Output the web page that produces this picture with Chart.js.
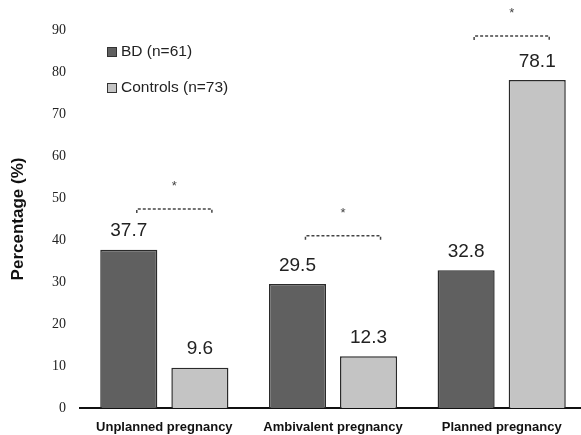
<!DOCTYPE html>
<html>
<head>
<meta charset="utf-8">
<script src="https://cdn.jsdelivr.net/npm/chart.js@4"></script>
<style>
  html, body { margin: 0; padding: 0; background: #fff; overflow: hidden; }
  #wrap { width: 587px; height: 435px; }
</style>
</head>
<body>
<div id="wrap"><canvas id="barChart"></canvas></div>
<script>
var categories = ["Unplanned pregnancy", "Ambivalent pregnancy", "Planned pregnancy"];
var bdValues = [37.7, 29.5, 32.8];
var controlValues = [9.6, 12.3, 78.1];
var seriesNames = ["BD (n=61)", "Controls (n=73)"];
var bracketLevels = [47.4, 41, 88.6];
var bracketMarks = ["*", "*", "*"];

// value labels above each bar
var valueLabels = {
    id: 'valueLabels',
    afterDatasetsDraw: function(chart) {
        var ctx = chart.ctx;
        ctx.save();
        ctx.font = '19px "Liberation Sans", Arial, sans-serif';
        ctx.fillStyle = '#222';
        ctx.textAlign = 'center';
        ctx.textBaseline = 'bottom';
        chart.data.datasets.forEach(function(ds, i) {
            chart.getDatasetMeta(i).data.forEach(function(bar, j) {
                ctx.fillText(ds.data[j].toFixed(1), bar.x, bar.y - 9);
            });
        });
        ctx.restore();
    }
};

// dashed significance brackets with asterisks
var brackets = {
    id: 'brackets',
    afterDatasetsDraw: function(chart) {
        var ctx = chart.ctx;
        var y = chart.scales.y;
        var m0 = chart.getDatasetMeta(0).data;
        var m1 = chart.getDatasetMeta(1).data;
        ctx.save();
        for (var k = 0; k < bracketLevels.length; k++) {
            var x1 = m0[k].x + 8;
            var x2 = m1[k].x + 12;
            var by = y.getPixelForValue(bracketLevels[k]);
            ctx.strokeStyle = '#444';
            ctx.lineWidth = 1.5;
            ctx.setLineDash([3, 2]);
            ctx.beginPath();
            ctx.moveTo(x1, by + 4);
            ctx.lineTo(x1, by);
            ctx.lineTo(x2, by);
            ctx.lineTo(x2, by + 4);
            ctx.stroke();
            ctx.setLineDash([]);
            ctx.fillStyle = '#444';
            ctx.font = '13px "Liberation Sans", Arial, sans-serif';
            ctx.textAlign = 'center';
            ctx.textBaseline = 'middle';
            ctx.fillText(bracketMarks[k], (x1 + x2) / 2, by - 22);
        }
        ctx.restore();
    }
};

// legend drawn inside plot area, top-left
var innerLegend = {
    id: 'innerLegend',
    afterDraw: function(chart) {
        var ctx = chart.ctx;
        var left = chart.chartArea.left + 27;
        var top = chart.chartArea.top + 22;
        ctx.save();
        ctx.font = '15.5px "Liberation Sans", Arial, sans-serif';
        ctx.textBaseline = 'middle';
        chart.data.datasets.forEach(function(ds, i) {
            var cy = top + i * 36;
            ctx.fillStyle = ds.backgroundColor;
            ctx.fillRect(left, cy - 5, 10, 10);
            ctx.strokeStyle = '#333';
            ctx.lineWidth = 1;
            ctx.strokeRect(left + 0.5, cy - 4.5, 9, 9);
            ctx.fillStyle = '#222';
            ctx.fillText(ds.label, left + 14, cy);
        });
        ctx.restore();
    }
};

var ctx = document.getElementById('barChart').getContext('2d');

new Chart(ctx, {
    type: 'bar',
    data: {
        labels: categories,
        datasets: [
            {
                label: seriesNames[0],
                data: bdValues,
                backgroundColor: '#606060',
                borderColor: '#2a2a2a',
                borderWidth: 1.5,
                categoryPercentage: 0.843,
                barPercentage: 0.803
            },
            {
                label: seriesNames[1],
                data: controlValues,
                backgroundColor: '#c4c4c4',
                borderColor: '#2a2a2a',
                borderWidth: 1.5,
                categoryPercentage: 0.843,
                barPercentage: 0.803
            }
        ]
    },
    options: {
        responsive: true,
        maintainAspectRatio: false,
        animation: false,
        layout: { padding: { top: 30, right: 1, left: 0, bottom: 0 } },
        plugins: {
            legend: { display: false },
            tooltip: { enabled: false }
        },
        scales: {
            x: {
                grid: { display: false, drawTicks: false },
                border: { color: '#111', width: 2 },
                ticks: {
                    color: '#111',
                    padding: 12,
                    font: { family: '"Liberation Sans Narrow", "Liberation Sans", Arial', size: 13, weight: 'bold' }
                },
                afterFit: function(scale) { scale.height = 27; }
            },
            y: {
                min: 0,
                max: 90,
                grid: { display: false, drawTicks: false },
                border: { display: false },
                ticks: {
                    stepSize: 10,
                    color: '#222',
                    padding: 14,
                    font: { family: '"Liberation Serif", "Times New Roman", serif', size: 14 }
                },
                title: {
                    display: true,
                    text: 'Percentage (%)',
                    color: '#111',
                    padding: { top: 8, bottom: 0 },
                    font: { family: '"Liberation Sans", Arial', size: 17, weight: 'bold' }
                },
                afterFit: function(scale) { scale.width = 80; }
            }
        }
    },
    plugins: [valueLabels, brackets, innerLegend]
});
</script>
</body>
</html>
